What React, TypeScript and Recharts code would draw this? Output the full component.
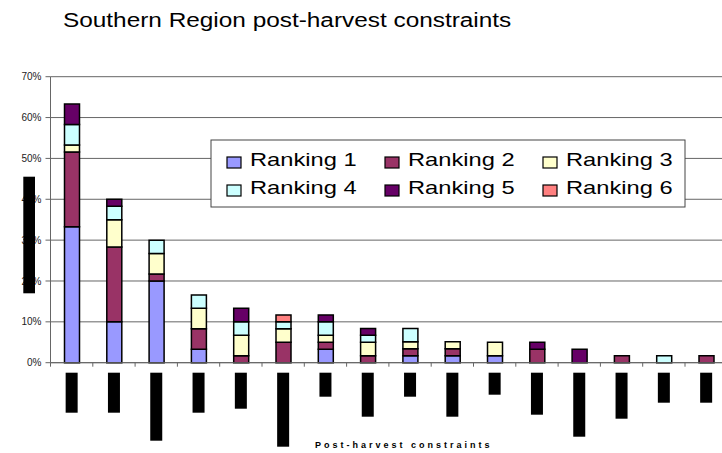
import React from 'react';
import { BarChart, Bar, XAxis, YAxis, CartesianGrid } from 'recharts';

// Categories (tick labels are blacked out in the source, so only ids + label lengths)
const categories = [
  'c1', 'c2', 'c3', 'c4', 'c5', 'c6', 'c7', 'c8',
  'c9', 'c10', 'c11', 'c12', 'c13', 'c14', 'c15', 'c16',
];
const redactedLabelLen = [40, 40, 68, 40, 36, 74, 24, 44, 24, 44, 22, 42, 64, 46, 30, 30];

const ranking1 = [33.3, 10, 20, 3.3, 0, 0, 3.3, 0, 1.7, 1.7, 1.7, 0, 0, 0, 0, 0];
const ranking2 = [18.3, 18.3, 1.7, 5, 1.7, 5, 1.7, 1.7, 1.7, 1.7, 0, 3.3, 0, 1.7, 0, 1.7];
const ranking3 = [1.7, 6.7, 5, 5, 5, 3.3, 1.7, 3.3, 1.7, 1.7, 3.3, 0, 0, 0, 0, 0];
const ranking4 = [5, 3.3, 3.3, 3.3, 3.3, 1.7, 3.3, 1.7, 3.3, 0, 0, 0, 0, 0, 1.7, 0];
const ranking5 = [5, 1.7, 0, 0, 3.3, 0, 1.7, 1.7, 0, 0, 0, 1.7, 3.3, 0, 0, 0];
const ranking6 = [0, 0, 0, 0, 0, 1.7, 0, 0, 0, 0, 0, 0, 0, 0, 0, 0];

const yTicks = [0, 10, 20, 30, 40, 50, 60, 70];

const SERIES = [
  { key: 'r1', name: 'Ranking 1', color: '#9999FF', values: ranking1 },
  { key: 'r2', name: 'Ranking 2', color: '#993366', values: ranking2 },
  { key: 'r3', name: 'Ranking 3', color: '#FFFFCC', values: ranking3 },
  { key: 'r4', name: 'Ranking 4', color: '#CCFFFF', values: ranking4 },
  { key: 'r5', name: 'Ranking 5', color: '#660066', values: ranking5 },
  { key: 'r6', name: 'Ranking 6', color: '#FF8080', values: ranking6 },
];

const data = categories.map((c, i) => {
  const row: any = { cat: c, labelLen: redactedLabelLen[i] };
  SERIES.forEach((s) => {
    row[s.key] = s.values[i];
  });
  return row;
});

// layout
const CHART_W = 740;
const CHART_H = 453;
const PLOT_LEFT = 50.5;
const PLOT_TOP = 76.7;
const PLOT_BOTTOM = 362.7;
const CAT_W = 42.3;
const PLOT_W = CAT_W * categories.length;
const FONT = '"Liberation Sans", Arial, sans-serif';
const GRID = '#666666';

const XTick = ({ x, payload, index }: any) => {
  const len = data[index] ? data[index].labelLen : 30;
  const left = x - CAT_W / 2;
  return (
    <g>
      <line x1={left} x2={left} y1={PLOT_BOTTOM} y2={PLOT_BOTTOM + 4} stroke={GRID} />
      {index === categories.length - 1 && (
        <line x1={left + CAT_W} x2={left + CAT_W} y1={PLOT_BOTTOM} y2={PLOT_BOTTOM + 4} stroke={GRID} />
      )}
      <rect x={x - 6} y={372.7} width={12} height={len} fill="#000" data-cat={payload.value} />
    </g>
  );
};

const XTitle = () => (
  <text
    x={315}
    y={448}
    fontFamily={FONT}
    fontSize={9}
    fontWeight="bold"
    letterSpacing={3}
    fill="#000"
  >
    Post-harvest constraints
  </text>
);

const legendCols = [227, 385, 543];
const legendRows = [157, 185];

export default function App() {
  return (
    <div
      style={{
        position: 'absolute',
        left: 0,
        top: 0,
        width: 722,
        height: 453,
        overflow: 'hidden',
        background: '#fff',
      }}
    >
      <BarChart
        width={CHART_W}
        height={CHART_H}
        data={data}
        margin={{
          top: PLOT_TOP,
          right: CHART_W - PLOT_LEFT - PLOT_W,
          left: 0,
          bottom: 0,
        }}
        barSize={15}
      >
        <CartesianGrid vertical={false} stroke={GRID} />
        <XAxis
          dataKey="cat"
          height={CHART_H - PLOT_BOTTOM}
          axisLine={{ stroke: GRID }}
          tickLine={false}
          tick={<XTick />}
          interval={0}
          label={{ content: <XTitle /> }}
        />
        <YAxis
          width={PLOT_LEFT}
          domain={[0, 70]}
          ticks={yTicks}
          tickFormatter={(v: number) => `${v}%`}
          axisLine={{ stroke: GRID }}
          tickLine={{ stroke: GRID }}
          tickSize={5}
          tickMargin={4}
          tick={{ fontFamily: FONT, fontSize: 10, fill: '#222' }}
        />
        {SERIES.map((s) => (
          <Bar
            key={s.key}
            dataKey={s.key}
            name={s.name}
            stackId="a"
            fill={s.color}
            stroke="#000"
            strokeWidth={1.5}
            isAnimationActive={false}
          />
        ))}
      </BarChart>
      <svg
        width={722}
        height={453}
        style={{ position: 'absolute', left: 0, top: 0, pointerEvents: 'none' }}
      >
        <text
          transform="translate(63,27) scale(1.25,1)"
          fontFamily={FONT}
          fontSize={19.5}
          fill="#000"
        >
          Southern Region post-harvest constraints
        </text>
        {/* y-axis title is blacked out in the source */}
        <rect x={23.3} y={176.7} width={11.7} height={116.6} fill="#000" />
        <rect x={211} y={140} width={474} height={67} fill="#fff" stroke="#444" />
        {SERIES.map((s, i) => {
          const cx = legendCols[i % 3];
          const cy = legendRows[Math.floor(i / 3)];
          return (
            <g key={s.key}>
              <rect x={cx} y={cy} width={14} height={11} fill={s.color} stroke="#000" strokeWidth={1.2} />
              <text
                transform={`translate(${cx + 23},${cy + 8.5}) scale(1.28,1)`}
                fontFamily={FONT}
                fontSize={18.5}
                fill="#000"
              >
                {s.name}
              </text>
            </g>
          );
        })}
      </svg>
    </div>
  );
}
